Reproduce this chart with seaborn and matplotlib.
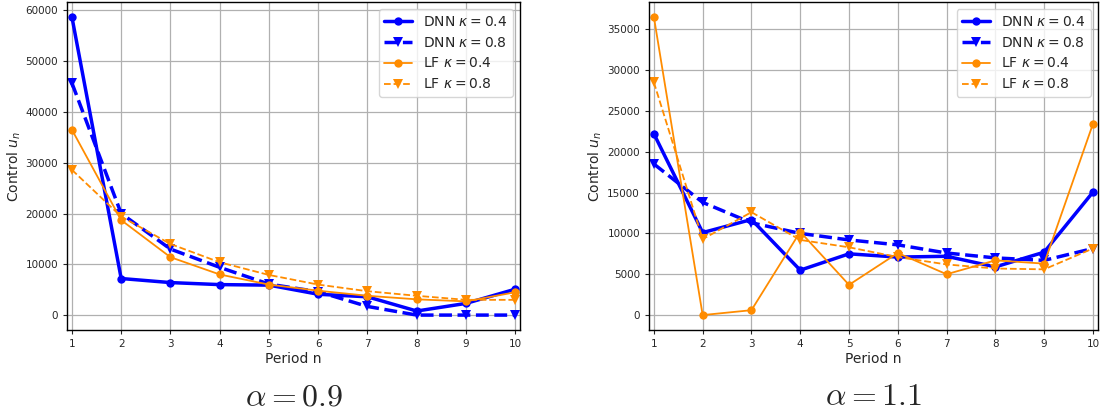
import numpy as np
import pandas as pd
import matplotlib
matplotlib.use('Agg')
import matplotlib.pyplot as plt
import seaborn as sns

periods = list(range(1, 11))

# alpha = 0.9
dnn04_a09 = [58700, 7200, 6400, 6000, 5900, 4100, 3600, 800, 2300, 5100]
dnn08_a09 = [45700, 20000, 13000, 9400, 6100, 4600, 1700, 0, 0, 0]
lf04_a09 = [36500, 18700, 11400, 8000, 6000, 4800, 3800, 3100, 2700, 4500]
lf08_a09 = [28600, 19400, 14000, 10400, 7900, 6000, 4700, 3800, 3000, 3000]

# alpha = 1.1
dnn04_a11 = [22200, 10100, 11700, 5500, 7500, 7100, 7200, 5900, 7700, 15050]
dnn08_a11 = [18500, 13800, 11300, 10000, 9200, 8600, 7600, 7000, 6700, 8150]
lf04_a11 = [36500, 0, 600, 10200, 3700, 7600, 5000, 6700, 6300, 23400]
lf08_a11 = [28500, 9300, 12600, 9200, 8300, 7100, 6200, 5700, 5600, 8150]

panel_titles = [r'$\alpha = 0.9$', r'$\alpha = 1.1$']
yticks_list = [np.arange(0, 60001, 10000), np.arange(0, 35001, 5000)]

sns.set_style('ticks')
plt.rcParams['font.family'] = ['DejaVu Sans']

fig = plt.figure(figsize=(11, 4.13), dpi=100)
ax1 = fig.add_axes([0.0609, 0.201, 0.412, 0.794])
ax2 = fig.add_axes([0.590, 0.201, 0.408, 0.794])

panels = [
    (ax1, dnn04_a09, dnn08_a09, lf04_a09, lf08_a09),
    (ax2, dnn04_a11, dnn08_a11, lf04_a11, lf08_a11),
]

for i, (ax, d4, d8, l4, l8) in enumerate(panels):
    sns.lineplot(x=periods, y=d4, ax=ax, color='blue', lw=2.5, marker='o', markersize=6,
                 markeredgewidth=0, label=r'DNN $\kappa = 0.4$')
    sns.lineplot(x=periods, y=d8, ax=ax, color='blue', lw=2.5, ls='--', marker='v', markersize=7,
                 markeredgewidth=0, label=r'DNN $\kappa = 0.8$')
    sns.lineplot(x=periods, y=l4, ax=ax, color='darkorange', lw=1.3, marker='o', markersize=6,
                 markeredgewidth=0, label=r'LF $\kappa = 0.4$')
    sns.lineplot(x=periods, y=l8, ax=ax, color='darkorange', lw=1.3, ls='--', marker='v', markersize=7,
                 markeredgewidth=0, label=r'LF $\kappa = 0.8$')
    ax.set_xlim(0.9, 10.1)
    ax.set_xticks(periods)
    ax.set_yticks(yticks_list[i])
    ax.tick_params(labelsize=7.5, length=3)
    ax.grid(True, color='#b0b0b0', lw=0.9)
    ax.set_xlabel('Period n', fontsize=10, labelpad=2)
    ax.set_ylabel(r'Control $u_n$', fontsize=10, labelpad=2)
    ax.legend(loc='upper right', fontsize=10)
    for s in ax.spines.values():
        s.set_color('black')
        s.set_linewidth(1.0)
    ax.text(0.5, -0.204, panel_titles[i], transform=ax.transAxes, ha='center', va='center',
            fontsize=23, math_fontfamily='cm')

fig.savefig('out.png', dpi=100)
